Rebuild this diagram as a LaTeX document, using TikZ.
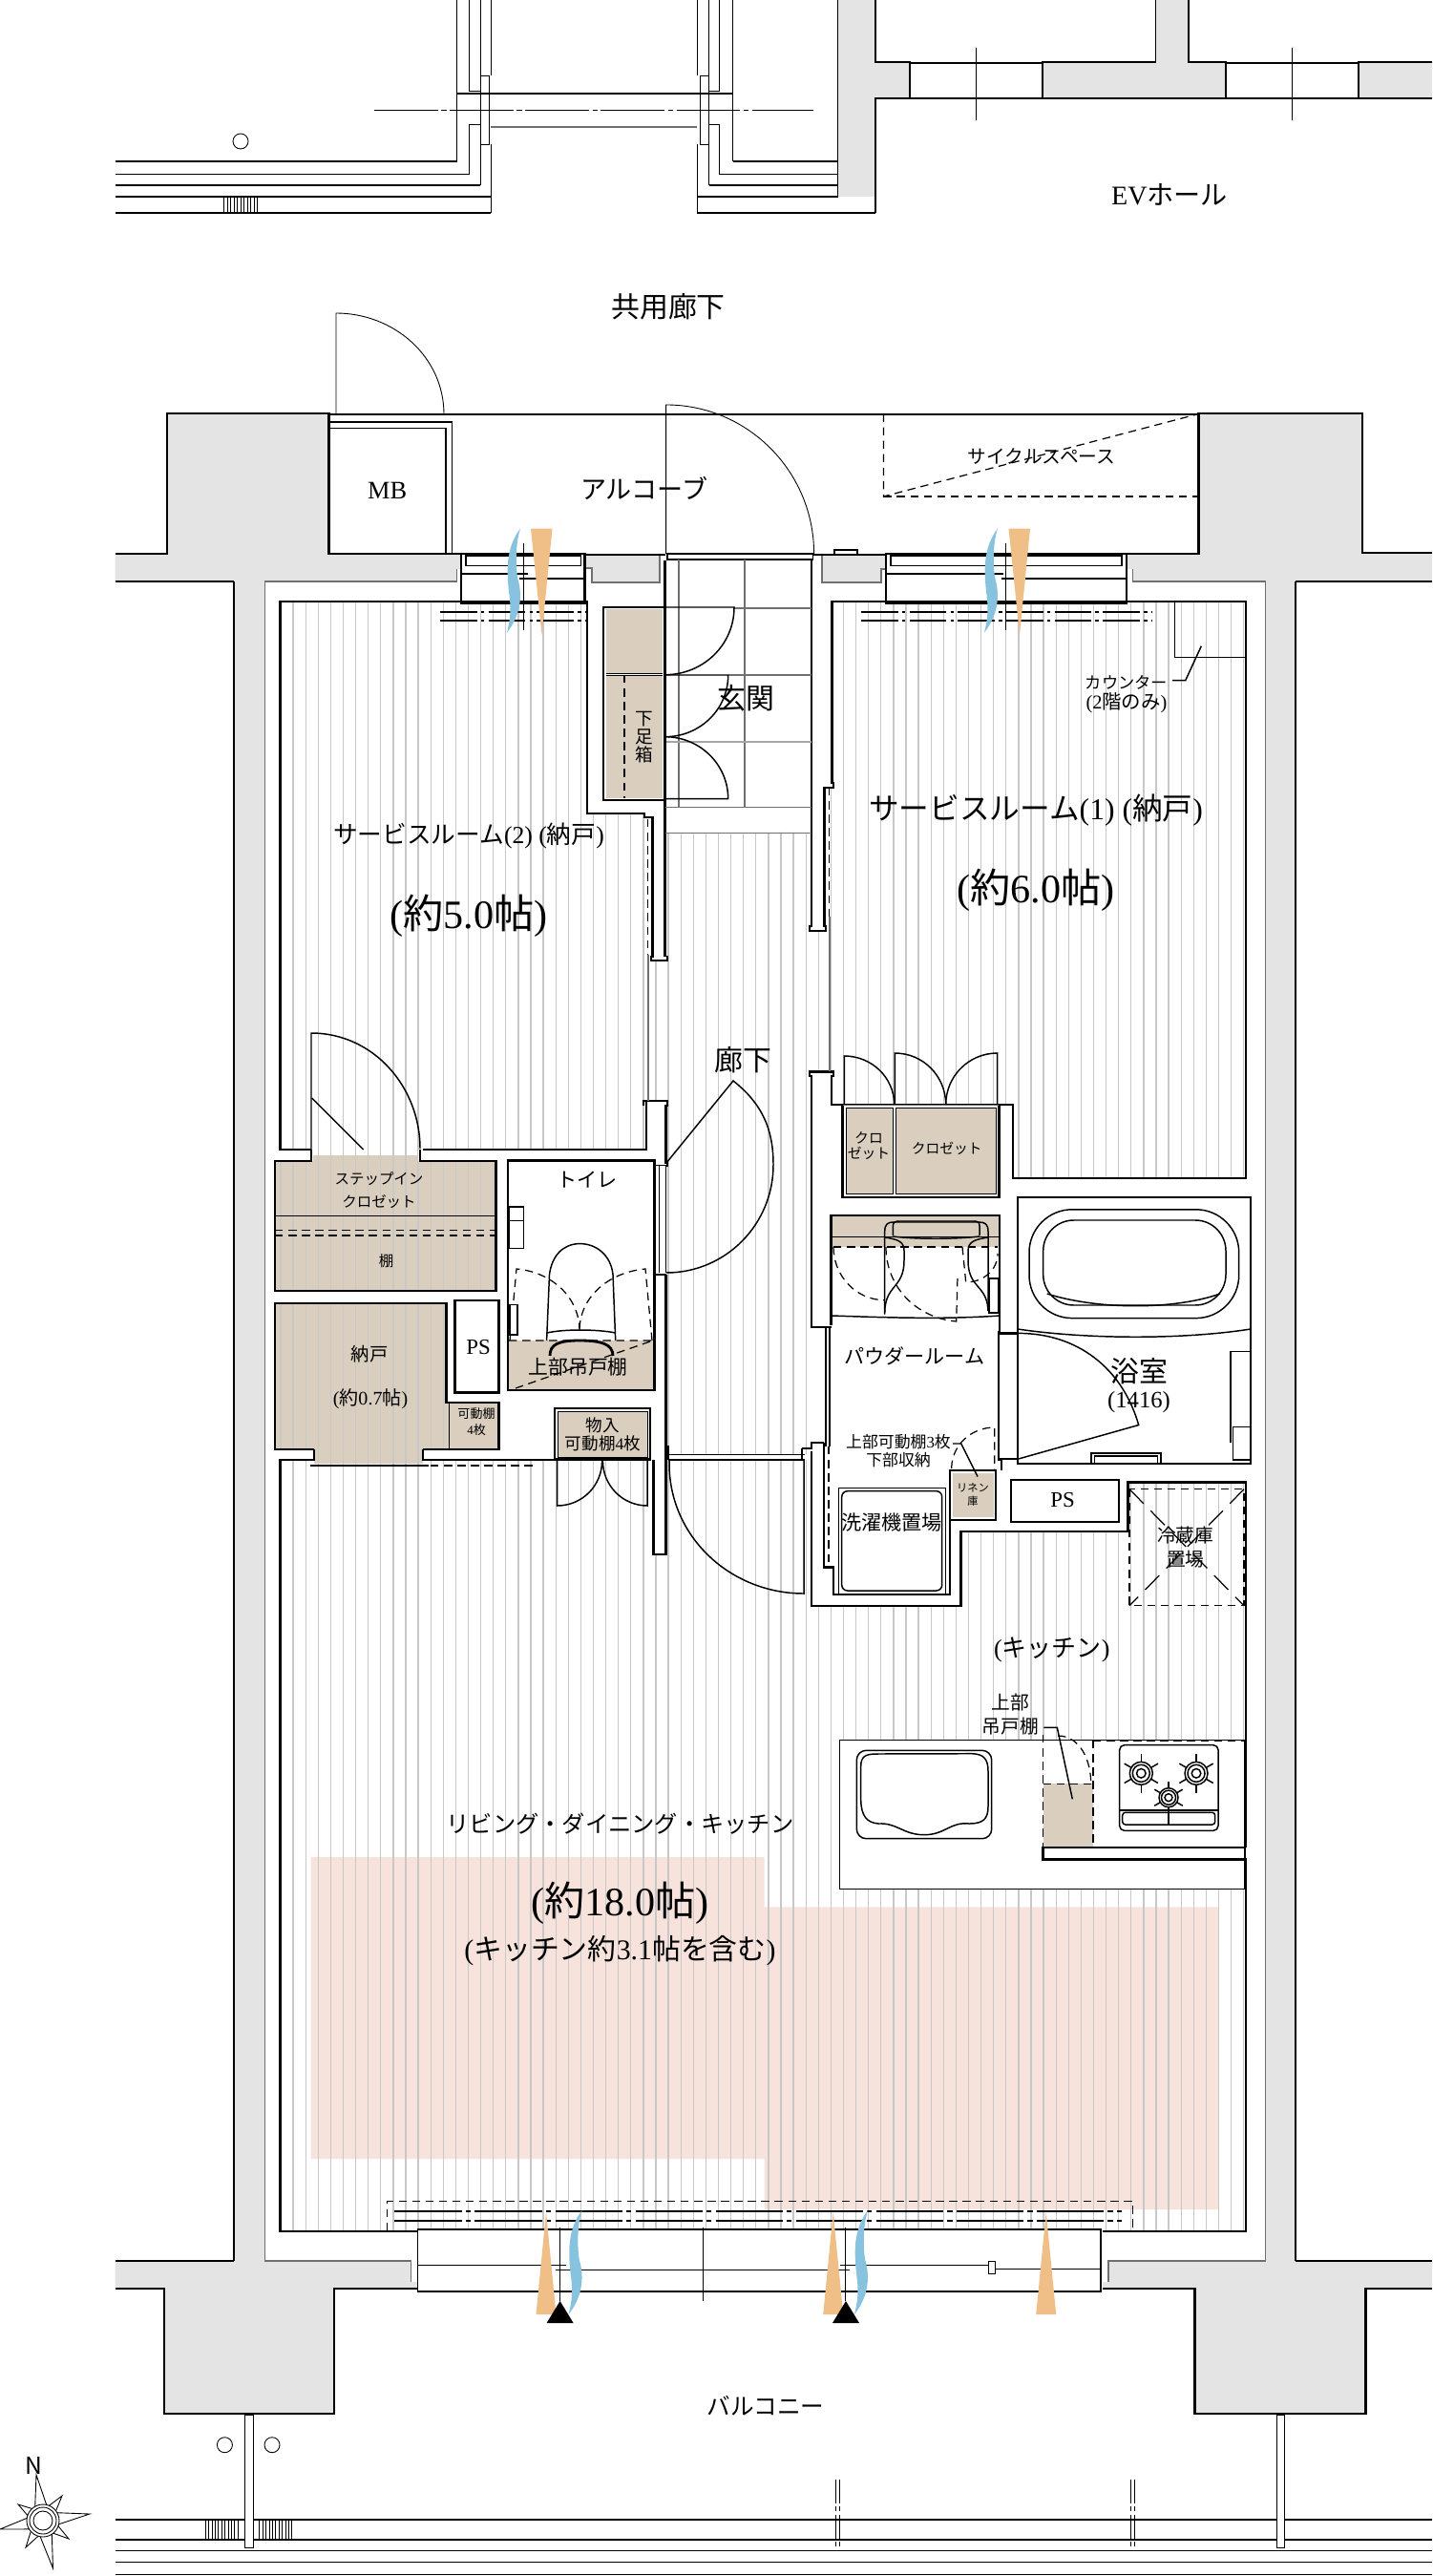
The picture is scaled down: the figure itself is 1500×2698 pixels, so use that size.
\documentclass[tikz,border=0pt]{standalone}
\usepackage{fontspec}
\usetikzlibrary{calc}
\setmainfont{Noto Sans CJK JP}
\newfontfamily\latf{Liberation Serif}
\newcommand{\seri}[1]{{\latf #1}}
\definecolor{wallgray}{HTML}{E4E4E4}
\definecolor{edgegray}{HTML}{707070}
\definecolor{tanfloor}{HTML}{DACEBF}
\definecolor{peach}{HTML}{F7E3DB}
\definecolor{woodgray}{HTML}{C8C8C8}
\definecolor{windblue}{HTML}{87C3DF}
\definecolor{windorange}{HTML}{F0BE87}
\tikzset{
  wallline/.style={line width=0.8pt, black},
  frameline/.style={line width=0.6pt, black},
  thinline/.style={line width=0.42pt, black},
  hairline/.style={line width=0.25pt, black},
  grayline/.style={line width=0.45pt, edgegray},
  dashline/.style={line width=0.35pt, black, dash pattern=on 2.4pt off 1.6pt},
  dashdotline/.style={line width=0.45pt, black, dash pattern=on 20pt off 1.2pt on 1.5pt off 1.2pt},
  woodline/.style={line width=0.36pt, woodgray},
  lab/.style={inner sep=0pt, align=center, font=\fontsize{#1}{#1}\selectfont}
}
\begin{document}
\begin{tikzpicture}[x=0.01cm, y=-0.01cm]
\useasboundingbox (0,0) rectangle (1500,2698);
\fill[white] (0,0) rectangle (1500,2698);

% Tan storage under the wood lines
\fill[tanfloor] (288,1216) rectangle (519.5,1352);
\fill[tanfloor] (328,1210) rectangle (438,1216);
\fill[tanfloor] (288,1365) -- (467.7,1365) -- (467.7,1469) -- (522.4,1469) -- (522.4,1518) -- (443,1518) -- (443,1533) -- (329,1533) -- (329,1518) -- (288,1518) -- cycle;

% Peach zone
\fill[peach] (325.5,1945) -- (800.6,1945) -- (800.6,1997.3) -- (1275.8,1997.3) -- (1275.8,2314) -- (800.6,2314) -- (800.6,2261) -- (325.5,2261) -- cycle;

% Wood lines
\begin{scope}
  \clip (294,630) -- (615,630) -- (615,852) -- (675,852) -- (675,856) -- (679,856) -- (679,1204) -- (294,1204) -- cycle
        (872,630) -- (1306,630) -- (1306,1234) -- (1061,1234) -- (1061,1157) -- (869,1157) -- (869,825) -- (872,825) -- cycle
        (679,1006) -- (698,1006) -- (698,872) -- (850,872) -- (850,975) -- (869,975) -- (869,1122) -- (850,1122) -- (850,1523) -- (698,1523) -- (698,1153) -- (679,1153) -- cycle
        (288,1216) rectangle (519.5,1352)
        (328,1204) rectangle (438,1216)
        (288,1365) -- (467.7,1365) -- (467.7,1469) -- (470,1469) -- (470,1518) -- (443,1518) -- (443,1533) -- (329,1533) -- (329,1518) -- (288,1518) -- cycle
        (294,1529) -- (850,1529) -- (850,1682) -- (1007,1682) -- (1007,1604) -- (1182,1604) -- (1182,1553) -- (1305,1553) -- (1305,2337) -- (294,2337) -- cycle;
  \foreach \k in {0,...,77} {
    \draw[woodline] ({294+\k*13.1},620) -- ++(0,1730);
  }
\end{scope}

% Gray walls
\fill[wallgray] (120.6,580) -- (175,580) -- (175,433) -- (344.5,433) -- (344.5,580) -- (483,580) -- (483,596) -- (478.5,596) -- (478.5,609) -- (277.5,609) -- (277.5,2368) -- (430.6,2368) -- (430.6,2390) -- (438,2390) -- (438,2397) -- (350,2397) -- (350,2528) -- (172,2528) -- (172,2397) -- (120.6,2397) -- (120.6,2368) -- (245,2368) -- (245,609) -- (120.6,609) -- cycle;
\fill[wallgray] (1500,579) -- (1427,579) -- (1427,433) -- (1255.5,433) -- (1255.5,580) -- (1180,580) -- (1180,596) -- (1186.6,596) -- (1186.6,609) -- (1325.5,609) -- (1325.5,2368) -- (1160.7,2368) -- (1160.7,2390) -- (1155,2390) -- (1155,2397) -- (1251.7,2397) -- (1251.7,2528) -- (1430.6,2528) -- (1430.6,2397) -- (1500,2397) -- (1500,2368) -- (1357,2368) -- (1357,609) -- (1500,609) -- cycle;
\fill[wallgray] (613,582) -- (691,582) -- (691,610) -- (620,610) -- (620,595) -- (613,595) -- cycle;
\fill[wallgray] (861,582) -- (928,582) -- (928,596) -- (923,596) -- (923,610) -- (861,610) -- cycle;
\draw[grayline] (613,595) -- (620,595) -- (620,610) -- (691,610) -- (691,582);
\draw[grayline] (861,582) -- (861,610) -- (923,610) -- (923,596) -- (928,596);
\draw[wallline] (613,581) -- (697,581) (852,581) -- (928,581);
\draw[wallline] (120.6,580) -- (175,580) -- (175,433) -- (344.5,433) -- (344.5,580) -- (483,580);
\draw[wallline] (120.6,609) -- (245,609);
\draw[thinline] (245,609) -- (245,2368);
\draw[grayline] (478.5,596) -- (478.5,609) -- (277.5,609) -- (277.5,2368) -- (430.6,2368) -- (430.6,2390);
\draw[wallline] (120.6,2368) -- (245,2368);
\draw[wallline] (438,2397) -- (350,2397) -- (350,2528) -- (172,2528) -- (172,2397) -- (120.6,2397);
\draw[wallline] (1500,579) -- (1427,579) -- (1427,433) -- (1255.5,433) -- (1255.5,580) -- (1180,580);
\draw[wallline] (1500,609) -- (1357,609);
\draw[thinline] (1357,609) -- (1357,2368);
\draw[grayline] (1186.6,596) -- (1186.6,609) -- (1325.5,609) -- (1325.5,2368) -- (1160.7,2368) -- (1160.7,2390);
\draw[wallline] (1500,2368) -- (1357,2368);
\draw[wallline] (1155,2397) -- (1251.7,2397) -- (1251.7,2528) -- (1430.6,2528) -- (1430.6,2397) -- (1500,2397);

% Upper building
\fill[wallgray] (877.5,0) -- (917,0) -- (917,65) -- (953,65) -- (953,103) -- (917,103) -- (917,206) -- (877.5,206) -- cycle;
\fill[wallgray] (1210.5,0) -- (1245,0) -- (1245,65) -- (1284,65) -- (1284,103) -- (1092,103) -- (1092,65) -- (1210.5,65) -- cycle;
\fill[wallgray] (1423,65) rectangle (1500,103);
\draw[thinline] (877.5,0) -- (877.5,206);
\draw[thinline] (917,0) -- (917,65) -- (953,65) -- (953,103) -- (917,103) -- (917,223);
\draw[thinline] (1210.5,0) -- (1210.5,65) -- (1092,65) -- (1092,103) -- (1284,103) -- (1284,65) -- (1245,65) -- (1245,0);
\draw[thinline] (1500,65) -- (1423,65) -- (1423,103) -- (1500,103);
\draw[thinline] (953,66) -- (1092,66) (953,103) -- (1092,103) (1284,66) -- (1423,66) (1284,103) -- (1423,103);
\foreach \x in {1022,1353} {
  \draw[hairline] (\x,50) -- (\x,126);
}

% Upper balcony
\foreach \y/\xa/\xb in {169/120.6/478.5, 182.6/120.6/491, 194/120.6/503, 206/120.6/514, 223/120.6/514, 169/767.5/877.5, 182.6/753/877.5, 194/742.6/877.5, 206/730/877.5, 223/730/917} {
  \draw[thinline] (\xa,\y) -- (\xb,\y);
}
\draw[hairline] (478.5,0) -- (478.5,169) (491,0) -- (491,95.5) -- (503,95.5) (491,182.6) -- (491,130) -- (503,130) (503,0) -- (503,79.5) (503,151) -- (503,194) (514,0) -- (514,79.5) (514,151) -- (514,223);
\draw[hairline] (767.5,0) -- (767.5,169) (753,0) -- (753,95.5) -- (742.6,95.5) (753,182.6) -- (753,130) -- (742.6,130) (742.6,0) -- (742.6,79.5) (742.6,151) -- (742.6,194) (730,0) -- (730,79.5) (730,151) -- (730,223);
\draw[hairline] (503,79.5) rectangle (512,151);
\draw[hairline] (733,79.5) rectangle (742.6,151);
\draw[thinline] (478.5,98) -- (767.5,98);
\draw[grayline] (514,133) -- (730,133);
\draw[hairline, dash pattern=on 19pt off 1pt on 1.5pt off 1pt] (392,115.6) -- (852,115.6);
\draw[hairline] (252,148) circle[radius=0.08cm];
\foreach \i in {0,...,10} {
  \draw[hairline] ({234.5+\i*3.5},206) -- ++(0,17);
}

% Entrance corridor side
\draw[thinline] (344.5,434) -- (1255.5,434);
\draw[hairline] (352,434) -- (352,328) to[out=0,in=90] (465,434);
\draw[thinline] (344.5,442) -- (473.7,442) -- (473.7,580);
\draw[thinline] (344.5,448.6) -- (467,448.6) -- (467,580);
\draw[hairline] (697.6,580) -- (697.6,424) to[out=0,in=90] (852.6,580);
\draw[dashline] (925.4,433.5) -- (1255.5,433.5) (925.4,520) -- (1255.5,520);
\draw[dashline] (925.4,433.5) -- (925.4,520) -- (1255.5,433.5);
\draw[thinline] (874,580) -- (874,576) -- (898,576) -- (898,580);

% Windows on the corridor side
\foreach \xa/\xb/\xm/\xn in {483/613.4/553/543.5, 928/1180/1051/1049} {
  \draw[frameline, fill=white] (\xa,580) rectangle (\xb,632);
  \draw[thinline] ({\xa+5},582) rectangle ({\xb-5},592.4);
  \draw[thinline] (\xa,601) -- (\xm,601) (\xn,606) -- (\xb,606);
}
\foreach \xa/\xb in {461/615, 902/1206} {
  \foreach \y in {641,650} {
    \draw[thinline, dash pattern=on 11pt off 1.2pt on 1pt off 1.2pt] (\xa,\y) -- (\xb,\y);
  }
}

% Room 2 and room 1 outline
\draw[wallline] (612,580) -- (612,630) -- (615,630);
\draw[wallline] (326,1204) -- (293.5,1204) -- (293.5,630) -- (615,630) -- (615,852) -- (675,852) -- (675,856) -- (683.3,856) -- (683.3,1002) -- (682,1002) -- (682,1006) -- (699,1006) -- (699,1002) -- (698,1002);
\draw[wallline] (443,1204) -- (677,1204) -- (677,1153) -- (674,1153) -- (674,1158);
\draw[wallline] (674,1153) -- (699,1153) -- (699,1158) -- (697.5,1158) -- (697.5,1218) -- (699,1218) -- (699,1221) -- (684.5,1221);
\draw[wallline] (696.7,587) -- (696.7,1002);
\draw[wallline] (850,587) -- (850,970) -- (848,970) -- (848,975) -- (865,975) -- (865,970) -- (863.3,970) -- (863.3,825) -- (873,825) -- (873,820) -- (871.7,820) -- (871.7,630) -- (1305,630) -- (1305,1234) -- (1061,1234) -- (1061,1157) -- (871,1157) -- (871,1127) -- (873,1127) -- (873,1122.7) -- (848,1122.7) -- (848,1127) -- (850,1127) -- (850,1388);
\draw[dashline] (678.3,858) -- (678.3,1000);
\draw[grayline] (679,1000) -- (679,1153);
\draw[dashline] (868.7,825) -- (868.7,960);
\draw[grayline] (868.7,960) -- (868.7,1122);
\draw[thinline] (1230.7,630) -- (1230.7,688.3) -- (1305,688.3);
\draw[thinline] (1258.3,676.7) -- (1241.7,712.7) -- (1228,712.7);

% Entrance hall
\draw[thinline, fill=white] (699,580) rectangle (851.7,586);
\foreach \x in {711,780} {
  \draw[line width=0.3pt, edgegray] (\x,586) -- (\x,846);
}
\foreach \y/\xa in {637/769, 707/762.7} {
  \draw[line width=0.3pt, edgegray] (\xa,\y) -- (850,\y);
}
\draw[line width=0.6pt, gray!70] (697,777) -- (850,777);
\draw[line width=0.3pt, edgegray] (697,845.7) -- (850,845.7);
\draw[grayline] (697,872.3) -- (850,872.3);

% Shoe storage
\draw[wallline, fill=white] (632,636) rectangle (696.7,838);
\fill[tanfloor] (635,638) rectangle (694,836);
\draw[line width=0.6pt, white] (635,706) -- (694,706);
\draw[hairline] (635,705) -- (694,705) (635,707.5) -- (694,707.5);
\draw[dashline] (654,707) -- (654,836);
\draw[thinline] (696.7,636) -- (769,636) to[out=-90,in=0] (696.7,706.7);
\draw[thinline] (696.7,707) -- (762.7,707) to[out=-90,in=0] (696.7,771.7);
\draw[thinline] (696.7,771.7) to[out=0,in=90] (762.7,836.7) -- (696.7,836.7);

% Step-in closet
\draw[wallline] (326,1204) -- (326,1216) -- (288,1216) -- (288,1352) -- (519.5,1352) -- (519.5,1216) -- (440,1216) -- (440,1204);
\draw[hairline] (288,1273) -- (519.5,1273);
\draw[dashline] (288,1288.4) -- (519.5,1288.4) (288,1294) -- (519.5,1294);
\draw[thinline] (326,1204) -- (326,1082) to[out=0,in=90] (440,1203);
\draw[thinline] (326.7,1150) -- (380.6,1204);

% Store room and PS
\draw[wallline] (329,1518) -- (288,1518) -- (288,1365) -- (467.7,1365) -- (467.7,1469) -- (522.4,1469) -- (522.4,1518) -- (443,1518);
\draw[hairline] (470.6,1469) -- (470.6,1518);
\draw[wallline, fill=white] (476.8,1362) rectangle (522.4,1458.7);
\draw[wallline] (329,1518) -- (329,1529) -- (293.5,1529) -- (293.5,2337) -- (437,2337);
\draw[wallline] (443,1518) -- (443,1529) -- (581.7,1529);
\draw[thinline] (324.6,1535) -- (449,1535);
\draw[dashline] (451,1535) -- (559,1535);

% Toilet
\draw[wallline, fill=white] (532,1215.7) rectangle (685.3,1456);
\fill[tanfloor] (533,1404) rectangle (684,1455);
\draw[wallline] (532,1404) -- (532,1456) -- (685.3,1456) -- (685.3,1335);
\fill[white] (687,1221) rectangle (697,1335);
\draw[thinline] (690.3,1221) -- (690.3,1333) (697.5,1221) -- (697.5,1333);
\draw[wallline] (684.5,1335) -- (697.5,1335) (697.5,1335) -- (697.5,1515);
\draw[dashline] (533,1404) -- (684,1404) (540,1454) -- (681,1405);
\draw[dashline] (534,1404) -- (541,1329) to[out=-5,in=90] (607,1394);
\draw[dashline] (683,1404) -- (676,1329) to[out=185,in=90] (607,1394);
\draw[thinline, fill=white] (533,1264) rectangle (548.5,1307.5);
\draw[hairline] (533,1278) -- (548.5,1278);
\draw[thinline, fill=white] (534,1366.5) rectangle (542,1398);
\draw[thinline] (572.6,1404) -- (575.5,1335) .. controls (578,1315) and (590,1302.6) .. (607.4,1302.6) .. controls (625,1302.6) and (640,1315) .. (642,1335) -- (644.7,1404);
\draw[thinline] (573,1396) .. controls (590,1392) and (625,1392) .. (644.7,1396);
\draw[wallline] (576,1420) .. controls (576,1408) and (585,1404) .. (607,1404) .. controls (630,1404) and (642,1408) .. (642,1420);

% Hall door above the toilet
\draw[thinline] (698,1218) -- (768,1132) to[out=-38.5,in=90] (810,1220) to[out=-90,in=0] (698,1333);

% Cupboard
\draw[wallline] (581,1475) rectangle (681,1528.4);
\fill[tanfloor] (584,1478) rectangle (678,1526);
\draw[hairline] (584,1478) rectangle (678,1526);
\draw[thinline] (583.7,1529) -- (583.7,1577) to[out=0,in=-90] (630.6,1530);
\draw[thinline] (678,1529) -- (678,1577) to[out=180,in=-90] (631.4,1530);

% Wall strips of the hall
\draw[wallline, fill=white] (684.5,1529) -- (684.5,1628) -- (697.5,1628) -- (697.5,1515) -- (699.5,1515) -- (699.5,1529);
\draw[thinline] (700,1523.4) -- (843,1523.4) (700,1529) -- (843,1529);
\draw[thinline] (701,1529) -- (701,1533) to[out=-90,in=180] (842,1669) -- (842,1529);

% Closets of room 1
\draw[wallline] (871.7,1157) -- (883,1157);
\draw[wallline] (882.7,1157) -- (882.7,1254) -- (1046.7,1254) -- (1046.7,1157) -- (1061,1157);
\fill[tanfloor] (886.7,1160.5) rectangle (935,1250);
\fill[tanfloor] (938,1160.5) rectangle (1043,1250);
\draw[hairline] (886.7,1160.5) rectangle (935,1250);
\draw[hairline] (938,1160.5) rectangle (1043,1250);
\draw[grayline] (883,1157.5) -- (1046,1157.5);
\draw[thinline] (884.3,1157) -- (884.3,1106) to[out=0,in=90] (936.7,1157);
\draw[thinline] (937.3,1157) -- (937.3,1103) to[out=0,in=90] (990.7,1157);
\draw[thinline] (1044.7,1157) -- (1044.7,1103) to[out=180,in=90] (990.7,1157);

% Powder room
\fill[tanfloor] (871,1273) rectangle (1047,1306);
\draw[wallline] (870.7,1388) -- (870.7,1273) -- (1047,1273) -- (1047,1394.5);
\draw[wallline] (850,1388) -- (850,1390) -- (871,1390);
\draw[hairline] (871,1295) -- (1047,1295);
\draw[dashline] (873,1306) -- (1045,1306);
\draw[thinline] (871,1378) .. controls (930,1380) and (990,1382) .. (1047,1378);
\draw[thinline] (926.7,1376.7) -- (926.7,1290) .. controls (926.7,1282) and (930,1280) .. (936,1280) -- (1025,1280) .. controls (1032,1280) and (1035,1282) .. (1035,1290) -- (1035,1373);
\draw[thinline] (935.3,1294) -- (935.3,1284) .. controls (935.3,1280) and (938,1279) .. (942,1279) -- (1020,1279) .. controls (1024,1279) and (1026,1280) .. (1026,1284) -- (1026,1294);
\draw[thinline] (935.3,1295) .. controls (960,1298) and (1000,1298) .. (1026,1295);
\draw[thinline] (926.7,1296) .. controls (940,1298) and (947,1300) .. (947,1310) -- (947,1320) .. controls (947,1350) and (927,1345) .. (926.7,1375);
\draw[thinline] (1035,1296) .. controls (1022,1298) and (1014,1300) .. (1014,1310) -- (1014,1320) .. controls (1014,1350) and (1034,1345) .. (1035,1373);
\draw[thinline, fill=white] (1036,1339) rectangle (1046,1375);
\draw[dashline] (873,1306) to[out=-90,in=180] (926.7,1361.7);
\draw[dashline] (928,1306) to[out=-90,in=175] (1001.7,1384) -- (1003,1337);
\draw[dashline] (1008,1306) -- (1011.7,1343) to[out=0,in=-90] (1045,1313);
\draw[thinline] (1047,1394.5) -- (1046,1394.5) -- (1046,1529) -- (1049,1529) -- (1049,1540);
\draw[wallline] (1047,1396.4) -- (1066.7,1396.4);
\draw[wallline] (1047,1528) -- (1066.7,1528);
\foreach \x in {865,869} {
  \draw[thinline] (\x,1390) -- (\x,1515);
}
\draw[thinline] (840,1517) -- (850,1517) -- (850,1511) -- (863,1511);
\draw[wallline] (863,1511) -- (863,1641.5) -- (873,1641.5) -- (873,1670) -- (995,1670) -- (995,1592);
\draw[wallline] (850,1520) -- (850,1682) -- (1006.7,1682) -- (1006.7,1604) -- (1181.7,1604) -- (1181.7,1552.6) -- (1305,1552.6) -- (1305,1935);
\draw[wallline] (840,1517) -- (840,1529) -- (843,1529);
\draw[dashline] (868,1515) -- (868,1641);

% Powder room labels' leader and linen
\draw[dashline] (996.7,1538) to[out=90,in=180] (1041.7,1495) -- (1041.7,1538.7);
\draw[frameline, fill=white] (995,1540) rectangle (1043,1592);
\fill[tanfloor] (997.7,1542.7) rectangle (1041,1589);
\draw[thinline] (998,1512) -- (1006.7,1512) -- (1024,1546.6);

% Washer
\draw[hairline, fill=white] (878.3,1558.5) rectangle (990,1669);
\draw[thinline, rounded corners=0.06cm] (881.7,1561.7) rectangle (986.7,1666);

% Bath
\draw[frameline, fill=white] (1066,1254) rectangle (1310,1533);
\draw[thinline, rounded corners=0.45cm] (1078,1266.8) rectangle (1297.7,1380.6);
\draw[thinline, rounded corners=0.32cm] (1092.7,1278) rectangle (1284,1367);
\draw[thinline] (1096.7,1355) .. controls (1150,1372) and (1230,1372) .. (1278,1355);
\draw[thinline] (1066,1392) .. controls (1140,1403) and (1240,1403) .. (1310,1392);
\draw[thinline] (1066.7,1396.4) to[out=0,in=106] (1192.7,1492.5) -- (1066.7,1528);
\draw[thinline] (1310,1415.4) -- (1289,1415.4) -- (1289,1511);
\draw[thinline] (1310,1494.5) -- (1291.7,1494.5) -- (1291.7,1529) -- (1310,1529);
\draw[thinline] (1143,1533) -- (1143,1522) -- (1216,1522) -- (1216,1533);
\draw[thinline] (1146.7,1533) -- (1146.7,1525) -- (1212.7,1525) -- (1212.7,1533);

% PS and fridge
\draw[frameline, fill=white] (1059,1550) rectangle (1171.7,1594);
\draw[dashline] (1183,1559.7) rectangle (1303,1681.8);
\draw[dashline, dash pattern=on 6pt off 3pt] (1183,1559.7) -- (1303,1681.8) (1303,1559.7) -- (1183,1681.8);

% Kitchen counter
\draw[thinline, fill=white] (879.3,1822.3) -- (1304,1822.3) -- (1304,1978.7) -- (879.3,1978.7) -- cycle;
\draw[thinline, rounded corners=0.1cm] (897.3,1833.3) rectangle (1038.7,1925.7);
\draw[thinline] (901.7,1850) .. controls (901.7,1840) and (906,1837) .. (918,1837) -- (1018,1836.7) .. controls (1030,1837) and (1035,1842) .. (1035,1855) -- (1035,1892) .. controls (1035,1905) and (1030,1910) .. (1015,1910) .. controls (995,1908) and (990,1921.7) .. (968,1921.7) .. controls (946,1921.7) and (940,1909) .. (920,1910) .. controls (908,1909) and (902,1902) .. (901.7,1885) -- cycle;
\fill[tanfloor] (1092.7,1868.3) rectangle (1145,1934.3);
\draw[dashline] (1092.7,1817) -- (1092.7,1934) (1145,1823) -- (1145,1934) (1092.7,1868.3) -- (1145,1868.3) (1145,1823) -- (1304,1823);
\draw[dashline] (1108,1818) to[out=0,in=90] (1142.7,1868);
\draw[thinline] (1093.3,1809.3) -- (1107.3,1809.3) -- (1123.3,1884.3);
\draw[wallline] (1304.5,1935) -- (1092.3,1935) -- (1092.3,1947.3) -- (1305,1947.3) -- (1305,2337) -- (1155,2337);

% Stove
\draw[thinline, rounded corners=0.05cm] (1172.7,1827.7) rectangle (1276,1917.3);
\draw[thinline] (1172.7,1896) -- (1276,1896);
\draw[thinline, rounded corners=0.03cm] (1175.7,1898.3) rectangle (1272.7,1911);
\draw[thinline] (1224,1880) -- (1224,1911);
\foreach \bx/\by/\br in {1195.3/1857.3/12, 1253/1857.3/12, 1224/1882.7/10} {
  \foreach \a in {90,30,-30,-90,150,210} {
    \draw[thinline] (\bx,\by) -- ++(\a:{\br*1.7});
  }
  \draw[thinline, fill=white] (\bx,\by) circle[radius=\br*0.01cm];
  \draw[thinline] (\bx,\by) circle[radius=\br*0.0075cm];
  \draw[thinline] (\bx,\by) circle[radius=\br*0.004cm];
}

% Balcony window
\draw[wallline] (293.5,2337) -- (437,2337);
\draw[thinline, fill=white] (437.3,2335) rectangle (1153,2400);
\draw[frameline] (437.3,2335) -- (1153,2335) (437.3,2400) -- (1153,2400);
\draw[thinline] (438,2372.3) -- (593.3,2372.3) (581.8,2377.3) -- (890,2377.3) (880,2372.3) -- (1035.4,2372.3) (1042,2376.7) -- (1153,2376.7);
\draw[hairline, fill=white] (1035.4,2368) rectangle (1042,2381.7);
\draw[dashline] (405.7,2336) -- (405.7,2305.7) -- (1186.6,2305.7) -- (1186.6,2336);
\foreach \y in {2315.7,2326} {
  \draw[dashdotline] (413.4,\y) -- (1175,\y);
}

% Wind marks
\foreach \x in {556,1056.5} {
  \fill[windorange] (\x,553.6) -- ++(22.5,0) -- ++(-11,111.4) -- cycle;
}
\foreach \tx in {572,872.7,1095.7} {
  \fill[windorange] (\tx,2316.7) -- ({\tx+10.5},2424) -- ({\tx-10.5},2424) -- cycle;
}
\foreach \bx/\by in {545/553.6, 1045/553.6, 609.6/2315, 909/2315} {
  \fill[windblue, shift={(\bx,\by)}] (0,0) .. controls (-16,21) and (-14,46) .. (-12,66) .. controls (-9,86) and (-11,96) .. (-14,109) .. controls (0,91) and (3,71) .. (-3,51) .. controls (-5,36) and (-5,16) .. (0,0) -- cycle;
}
\foreach \x in {548,1053.6} {
  \draw[hairline] (\x,569) -- (\x,660);
}
\foreach \x in {586.6,736,885} {
  \draw[hairline] (\x,2333) -- (\x,2410);
}
\foreach \x in {586.6,886} {
  \fill[black] (\x,2410) -- ({\x+14},2433) -- ({\x-14},2433) -- cycle;
}

% Lower balcony
\foreach \y in {2639,2660,2671.7,2683.3,2696.7} {
  \draw[thinline] (120.6,\y) -- (1500,\y);
}
\foreach \xa in {215.3,271.8} {
  \foreach \i in {0,...,10} {
    \draw[hairline] ({\xa+\i*3.4},2639) -- ++(0,21);
  }
}
\foreach \xa in {256.5,1337} {
  \draw[hairline, fill=white] (\xa,2529) rectangle ({\xa+8.5},2668);
}
\foreach \x in {235.4,285} {
  \draw[hairline] (\x,2560.7) circle[radius=0.08cm];
}
\foreach \x in {877.5,1186.6} {
  \draw[hairline, dash pattern=on 7pt off 1pt on 1.5pt off 1pt] (\x-2,2597) -- (\x-2,2671.7) (\x+2,2597) -- (\x+2,2671.7);
}

% Compass
\coordinate (compc) at (45,2640);
\foreach \tx/\ty in {38/2592, 94/2633, 55.5/2690, 0/2649, 65/2614, 72/2659, 27/2668, 19/2623} {
  \draw[hairline, fill=white] ($(compc)!0.09cm!90:(\tx,\ty)$) -- (\tx,\ty) -- ($(compc)!0.09cm!-90:(\tx,\ty)$) -- cycle;
}
\foreach \r in {0.17,0.14,0.1} {
  \draw[hairline, fill=white] (compc) circle[radius=\r cm];
}

% Labels
\node[lab=7] (nmark) at (35.4,2582) {N};
\node[lab=8] (evhall) at (1225,204) {\seri{EV}ホール};
\node[lab=8.5] (kyoyo) at (700,321) {共用廊下};
\node[lab=7.7] (alcove) at (674.6,511) {アルコーブ};
\node[lab=7.5] (mbox) at (405.7,514) {\seri{MB}};
\node[lab=5.6] (cycle) at (1091,477.7) {サイクルスペース};
\node[lab=7.3] (room2) at (491,875) {サービスルーム\seri{(2) (}納戸\seri{)}};
\node[lab=12] (room2size) at (491,959) {\seri{(}約\seri{5.0}帖\seri{)}};
\node[lab=9] (room1) at (1085,849) {サービスルーム\seri{(1) (}納戸\seri{)}};
\node[lab=12] (room1size) at (1085,932) {\seri{(}約\seri{6.0}帖\seri{)}};
\node[lab=4.9] (counter) at (1180,715) {カウンター};
\node[lab=5.8] (counterfloor) at (1180,736.7) {\seri{(2}階のみ\seri{)}};
\node[lab=8.5] (genkan) at (781.7,731.7) {玄関};
\node[lab=5.3] (shoes) at (675,772) {下\\足\\箱};
\node[lab=8.5] (rouka) at (778.6,1110) {廊下};
\node[lab=4.4] (stepin) at (397,1246.5) {ステップイン\\[2.5pt]クロゼット};
\node[lab=4.4] (shelf) at (404.6,1320.6) {棚};
\node[lab=5.5] (nando) at (387,1418.5) {納戸};
\node[lab=5.7] (nandosize) at (388,1465) {\seri{(}約\seri{0.7}帖\seri{)}};
\node[lab=3.7] (shelf4) at (499,1489) {可動棚\\[1pt]\seri{4}枚};
\node[lab=6.5] (psleft) at (501,1411) {\seri{PS}};
\node[lab=6] (toilet) at (615,1235.6) {トイレ};
\node[lab=5.9] (upper) at (605.7,1431.5) {上部吊戸棚};
\node[lab=5] (storage) at (631.4,1502.5) {物入\\[0.5pt]可動棚\seri{4}枚};
\node[lab=4.2] (closeta) at (910,1200) {クロ\\[0.3pt]ゼット};
\node[lab=4.2] (closetb) at (991.7,1202.8) {クロゼット};
\node[lab=6] (powder) at (958,1420) {パウダールーム};
\node[lab=4.8] (upshelf) at (941,1519.5) {上部可動棚\seri{3}枚\\[0.5pt]下部収納};
\node[lab=3.2] (linen) at (1019,1565.5) {リネン\\[1pt]庫};
\node[lab=6] (washer) at (934,1595) {洗濯機置場};
\node[lab=8.5] (bath) at (1193,1436) {浴室};
\node[lab=7] (bathsize) at (1193,1468.8) {\seri{(1416)}};
\node[lab=6.5] (psright) at (1113,1571.5) {\seri{PS}};
\node[lab=5.6] (fridge) at (1241.7,1621) {冷蔵庫\\[1.5pt]置場};
\node[lab=7.4] (kitchen) at (1101.7,1728) {\seri{(}キッチン\seri{)}};
\node[lab=5.6] (wall) at (1058.5,1796) {上部\\[1.5pt]吊戸棚};
\node[lab=6.9] (ldk) at (649.5,1910) {リビング・ダイニング・キッチン};
\node[lab=12] (ldksize) at (649.5,1993) {\seri{(}約\seri{18.0}帖\seri{)}};
\node[lab=8.5] (ldknote) at (649.5,2043) {\seri{(}キッチン約\seri{3.1}帖を含む\seri{)}};
\node[lab=7] (balcony) at (802,2520) {バルコニー};
\end{tikzpicture}
\end{document}
